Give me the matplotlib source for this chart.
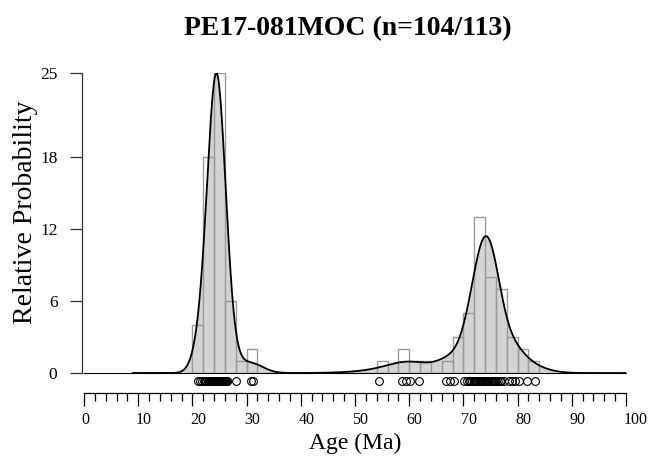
import numpy as np
import matplotlib
matplotlib.use("Agg")
import matplotlib.pyplot as plt
import matplotlib.transforms as mtransforms
from matplotlib.ticker import MultipleLocator

plt.rcParams['font.family'] = ['Liberation Serif', 'DejaVu Serif']

title = "PE17-081MOC (n=104/113)"
x_label = "Age (Ma)"
y_label = "Relative Probability"

# Individual grain ages (Ma)
ages_young = [
    21.0, 21.4, 21.8, 22.1, 22.4, 22.6, 22.8, 23.0, 23.15, 23.25,
    23.3, 23.4, 23.5, 23.55, 23.6, 23.7, 23.8, 23.85, 23.9, 24.0,
    24.05, 24.1, 24.15, 24.2, 24.25, 24.3, 24.35, 24.4, 24.45, 24.5,
    24.55, 24.6, 24.65, 24.7, 24.75, 24.8, 24.9, 25.0, 25.1, 25.2,
    25.25, 25.3, 25.4, 25.5, 25.6, 25.7, 25.8, 25.9, 26.0, 26.1,
    26.2, 26.3, 26.4, 28.0, 30.75, 31.2,
]
ages_old = [
    54.4, 58.7, 59.4, 60.2, 61.9, 66.7, 67.5, 68.3,
    70.2, 70.6, 71.0, 71.3, 71.6, 71.9, 72.2, 72.4, 72.6, 72.8,
    73.0, 73.15, 73.3, 73.45, 73.6, 73.75, 73.9, 74.05, 74.2, 74.4,
    74.6, 74.8, 75.0, 75.2, 75.3, 75.4, 75.5, 75.6, 75.85, 76.1,
    76.4, 76.7, 77.0, 77.4, 78.4, 79.0, 79.6, 80.2, 81.8, 83.2,
]

# Histogram: 2 Myr bins starting at the listed ages
bin_starts = list(range(20, 84, 2))
bin_counts = [4, 18, 25, 6, 1, 2,
              0, 0, 0, 0, 0, 0, 0, 0, 0, 0, 0,
              1, 0, 2, 1, 1, 0, 1, 3, 5, 13, 8, 7, 3, 2, 1]

y_ticks = [0, 6, 12, 18, 25]


def adaptive_kde(samples, grid, h_min, pilot_bw=4.0, alpha=0.45):
    """Variable-bandwidth Gaussian KDE: sparse grains get wider kernels."""
    x = np.asarray(samples, dtype=float)
    d = x[:, None] - x[None, :]
    pilot = np.exp(-0.5 * (d / pilot_bw) ** 2).sum(axis=1)
    h = h_min * (pilot.max() / pilot) ** alpha
    z = (grid[:, None] - x[None, :]) / h[None, :]
    return (np.exp(-0.5 * z ** 2) / h[None, :]).sum(axis=1)


W, H = 650, 459
fig = plt.figure(figsize=(W / 100, H / 100), dpi=100)
ax = fig.add_axes([84 / W, (H - 373) / H, 542 / W, 300 / H])
ax.set_xlim(0, 100)
ax.set_ylim(0, 25)

ages = ages_young + ages_old
grid = np.linspace(9, 100, 2000)
dens = adaptive_kde(ages, grid, 1.3)
dens *= max(bin_counts) / dens.max()

ax.fill_between(grid, dens, color='#d3d3d3', lw=0, zorder=1)
ax.bar(bin_starts, bin_counts, width=2, align='edge', fill=False,
       edgecolor='#9a9a9a', lw=1.0, zorder=2)
ax.plot([0, 100], [0, 0], color='black', lw=0.8, zorder=3, clip_on=False)
ax.plot(grid, dens, color='black', lw=1.3, zorder=4)
ax.plot(ages, np.full(len(ages), -0.64), 'o', ms=5.6, mfc='none',
        mec='black', mew=0.8, clip_on=False, zorder=5)

for s in ('top', 'right'):
    ax.spines[s].set_visible(False)
ax.spines['left'].set_position(('outward', 1.5))
ax.spines['left'].set_bounds(0, 25)
ax.spines['left'].set_color('#333333')
ax.spines['bottom'].set_position(('outward', 14.4))
ax.spines['bottom'].set_bounds(0, 100)
for s in ('left', 'bottom'):
    ax.spines[s].set_linewidth(0.9)

ax.set_yticks(y_ticks)
ax.set_yticklabels([str(t) for t in y_ticks])
ax.xaxis.set_major_locator(MultipleLocator(10))
ax.xaxis.set_minor_locator(MultipleLocator(2))
ax.tick_params(axis='y', direction='out', length=8.6, width=0.9,
               color='#333333', pad=9, labelsize=12.5)
ax.tick_params(axis='x', which='major', direction='out', length=9.4,
               width=0.9, pad=4, labelsize=11.5)
ax.tick_params(axis='x', which='minor', direction='out', length=5.8,
               width=0.9)
shift = mtransforms.ScaledTranslation(-2.5 / 100, 0, fig.dpi_scale_trans)
for lbl in ax.get_xticklabels():
    lbl.set_horizontalalignment('left')
    lbl.set_transform(lbl.get_transform() + shift)

fig.text(348 / W, 1 - 35 / H, title, ha='center', va='baseline',
         fontsize=20, fontweight='bold')
fig.text(355 / W, 1 - 449 / H, x_label, ha='center', va='baseline',
         fontsize=17)
fig.text(26 / W, 1 - 212 / H, y_label, ha='center', va='center',
         rotation=90, fontsize=20)

fig.savefig('out.png', dpi=100)
